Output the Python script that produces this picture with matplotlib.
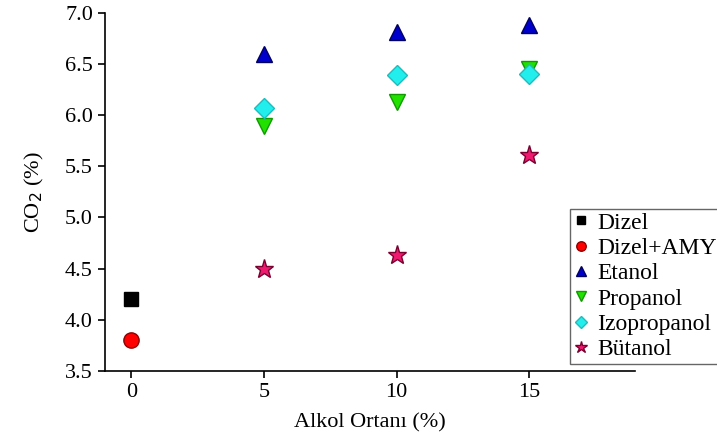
import matplotlib.pyplot as plt

# Veriler
x_dizel = [0]
y_dizel = [4.2]
x_amy = [0]
y_amy = [3.8]
x_alkol = [5, 10, 15]
y_etanol = [6.6, 6.81, 6.88]
y_propanol = [5.89, 6.13, 6.45]
y_izopropanol = [6.07, 6.39, 6.4]
y_butanol = [4.5, 4.63, 5.61]

x_ticks = [0, 5, 10, 15]
y_ticks = [3.5, 4.0, 4.5, 5.0, 5.5, 6.0, 6.5, 7.0]

plt.rcParams['font.family'] = ['Liberation Serif', 'DejaVu Serif']

fig = plt.figure(figsize=(7.17, 4.41), dpi=100)
ax = fig.add_axes([0.146, 0.159, 0.74, 0.812])

ms = 11
ax.plot(x_dizel, y_dizel, 's', color='black', mec='black', ms=ms - 1, label='Dizel')
ax.plot(x_amy, y_amy, 'o', color='#ff0000', mec='#8b0000', ms=ms, label='Dizel+AMY')
ax.plot(x_alkol, y_etanol, '^', color='#0000cc', mec='#000060', ms=ms + 1, label='Etanol')
ax.plot(x_alkol, y_propanol, 'v', color='#22e000', mec='#119900', ms=ms + 1, label='Propanol')
ax.plot(x_alkol, y_izopropanol, 'D', color='#22eeee', mec='#22bbbb', ms=ms - 1, label='Izopropanol')
ax.plot(x_alkol, y_butanol, '*', color='#ee1a70', mec='#7a0030', ms=ms + 3, label='Bütanol')

ax.set_xlim(-1, 19)
ax.set_ylim(3.5, 7.0)
ax.set_xticks(x_ticks)
ax.set_yticks(y_ticks)
ax.set_yticklabels([f'{v:.1f}' for v in y_ticks])
ax.tick_params(labelsize=16, length=5, width=1.2, direction='out')

ax.spines['top'].set_visible(False)
ax.spines['right'].set_visible(False)
ax.spines['left'].set_linewidth(1.2)
ax.spines['bottom'].set_linewidth(1.2)

ax.set_xlabel('Alkol Ortanı (%)', fontsize=16, labelpad=8)
ax.set_ylabel('CO$_2$ (%)', fontsize=16, labelpad=14)

leg = ax.legend(loc='upper left', bbox_to_anchor=(0.795, 0.527), bbox_transform=fig.transFigure,
                fontsize=17, handlelength=0.6, handletextpad=0.4, borderpad=0.15,
                labelspacing=0.16, markerscale=0.62, fancybox=False, framealpha=1,
                borderaxespad=0)
leg.get_frame().set_edgecolor('#666666')
leg.get_frame().set_linewidth(1.0)

fig.savefig('out.png', dpi=100)
